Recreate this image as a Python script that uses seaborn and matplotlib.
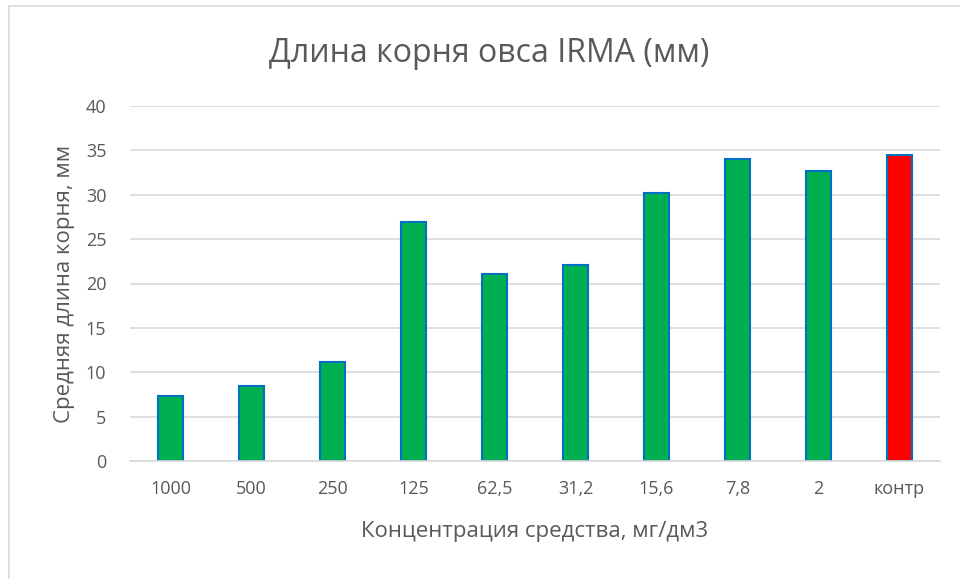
import matplotlib
matplotlib.use("Agg")
import matplotlib.pyplot as plt
import pandas as pd
import seaborn as sns
from matplotlib.patches import Rectangle

# Данные
concentrations = ["1000", "500", "250", "125", "62,5", "31,2", "15,6", "7,8", "2", "контр"]
root_length = [7.3, 8.5, 11.2, 26.9, 21.1, 22.1, 30.2, 34.0, 32.7, 34.5]
bar_colors = ["#00B050"] * 9 + ["#FF0000"]

df = pd.DataFrame({"conc": concentrations, "length": root_length})

sns.set_style("white")
plt.rcParams["font.family"] = ["Open Sans", "DejaVu Sans"]
text_color = "#595959"

fig = plt.figure(figsize=(9.6, 5.79), dpi=100)
ax = fig.add_axes([130 / 960, 1 - 461 / 579, 810 / 960, 355 / 579])

sns.barplot(data=df, x="conc", y="length", hue="conc", palette=bar_colors,
            legend=False, width=0.32, edgecolor="#0070C0", linewidth=1.5,
            saturation=1, ax=ax)

ax.set_ylim(0, 40)
ax.set_xlim(-0.5, 9.5)
ax.set_yticks(range(0, 41, 5))
ax.yaxis.grid(True, color="#D9D9D9", linewidth=1.2)
ax.set_axisbelow(True)
for s in ["top", "right", "left"]:
    ax.spines[s].set_visible(False)
ax.spines["bottom"].set_color("#D9D9D9")
ax.spines["bottom"].set_linewidth(1.2)
ax.tick_params(axis="both", length=0, labelsize=13, colors=text_color)
ax.tick_params(axis="x", pad=14)
ax.tick_params(axis="y", pad=17)

ax.set_xlabel("Концентрация средства, мг/дм3", fontsize=16, color=text_color, labelpad=16)
ax.set_ylabel("Средняя длина корня, мм", fontsize=16, color=text_color, labelpad=8)

fig.text(0.51, 1 - 54 / 579, "Длина корня овса IRMA (мм)", ha="center", va="center",
         fontsize=23, color=text_color)

# рамка области диаграммы
fig.patches.append(Rectangle((9 / 960, -0.1), 1.2, 1 - 6 / 579 + 0.1,
                             transform=fig.transFigure, fill=False,
                             edgecolor="#D9D9D9", linewidth=1.2))

fig.savefig("out.png", dpi=100)
